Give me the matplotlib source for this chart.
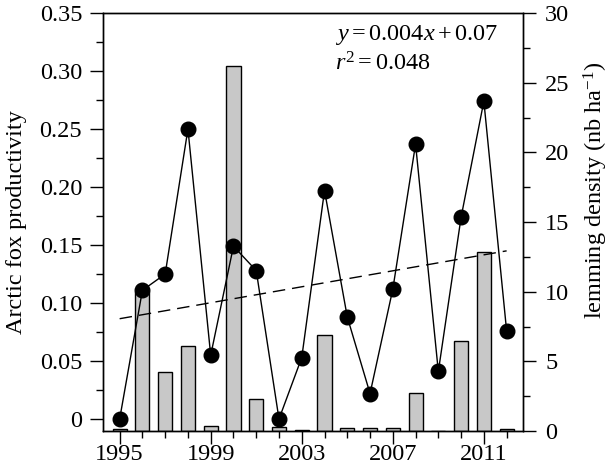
import matplotlib
matplotlib.use("Agg")
import matplotlib.pyplot as plt
from matplotlib.ticker import MultipleLocator, FixedLocator, FuncFormatter

plt.rcParams['font.family'] = ['Liberation Serif', 'DejaVu Serif']
plt.rcParams['mathtext.fontset'] = 'custom'
plt.rcParams['mathtext.rm'] = 'Liberation Serif'
plt.rcParams['mathtext.it'] = 'Liberation Serif:italic'

years = list(range(1995, 2013))
lemming = [0.15, 10.0, 4.2, 6.1, 0.38, 26.2, 2.27, 0.3, 0.1, 6.9, 0.2, 0.2, 0.2, 2.75, 0.0, 6.46, 12.83, 0.12]
fox = [0.0, 0.111, 0.125, 0.25, 0.055, 0.149, 0.128, 0.0, 0.053, 0.197, 0.088, 0.022, 0.112, 0.237, 0.041, 0.174, 0.274, 0.076]
trend_years = [1995, 2012]
trend_vals = [0.0865, 0.145]
year_labels = [1995, 1999, 2003, 2007, 2011]

fig = plt.figure(figsize=(6.1, 4.75), dpi=100)
ax1 = fig.add_axes([0.1689, 0.0926, 0.6885, 0.880])
ax2 = ax1.twinx()

ax2.bar(years, lemming, width=0.62, color='#c8c8c8', edgecolor='black', linewidth=1.0)
ax1.plot(years, fox, '-', color='black', linewidth=1.0, marker='o', markersize=10.5,
         markerfacecolor='black', markeredgecolor='black')
ax1.plot(trend_years, trend_vals, color='black', linewidth=1.0, dashes=(9, 5))

ax1.set_zorder(ax2.get_zorder() + 1)
ax1.patch.set_visible(False)

ax1.set_xlim(1994.27, 2012.72)
ax1.set_ylim(-0.0103, 0.35)
ax2.set_ylim(0, 30)

fs = 17.5
ax1.yaxis.set_major_locator(MultipleLocator(0.05))
ax1.yaxis.set_minor_locator(MultipleLocator(0.025))
ax1.yaxis.set_major_formatter(FuncFormatter(lambda v, p: '0' if abs(v) < 1e-9 else f'{v:.2f}'))
ax2.yaxis.set_major_locator(MultipleLocator(5))
ax2.yaxis.set_minor_locator(MultipleLocator(2.5))
ax1.xaxis.set_major_locator(FixedLocator(year_labels))
ax1.xaxis.set_minor_locator(FixedLocator(years))

for ax in (ax1, ax2):
    ax.tick_params(which='major', direction='out', length=9.5, width=1.0, labelsize=fs)
    ax.tick_params(which='minor', direction='out', length=4.8, width=1.0)
    for s in ax.spines.values():
        s.set_linewidth(1.0)
ax1.tick_params(axis='y', which='major', pad=5.5)
ax2.tick_params(axis='y', which='major', pad=6.5)
ax1.tick_params(axis='x', which='major', pad=-0.5)

ax1.set_ylabel('Arctic fox productivity', fontsize=fs, labelpad=9)
ax2.set_ylabel('lemming density (nb ha$^{-1}$)', fontsize=fs, labelpad=8.5)
ax2.yaxis.label.set_y(0.577)

ax1.text(0.552, 0.975, '$y = 0.004x + 0.07$', transform=ax1.transAxes,
         fontsize=fs, ha='left', va='top')
ax1.text(0.552, 0.905, '$r^2 = 0.048$', transform=ax1.transAxes,
         fontsize=fs, ha='left', va='top')

fig.savefig('out.png', dpi=100)
